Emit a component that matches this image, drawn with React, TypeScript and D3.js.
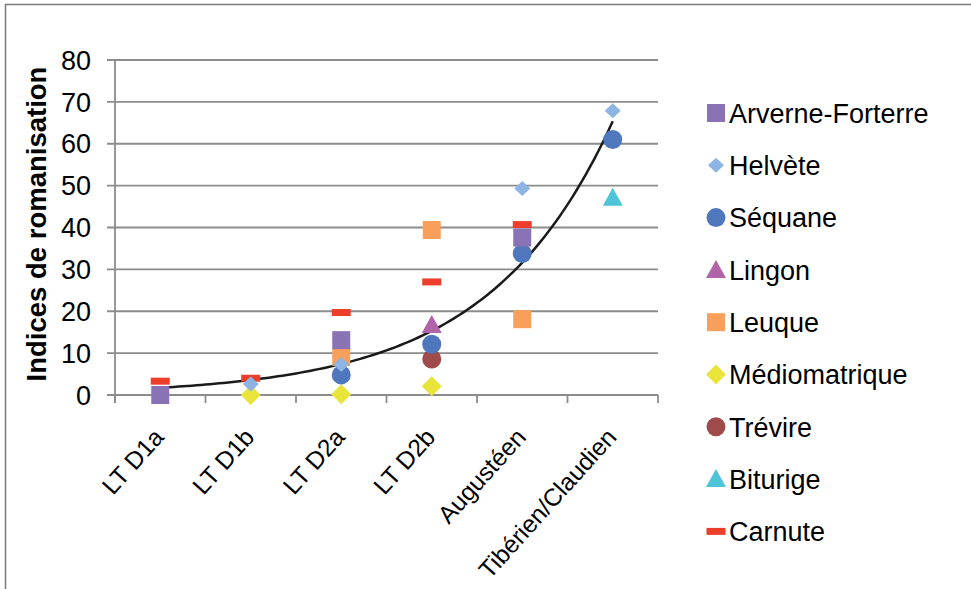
import React from "react";
import * as d3 from "d3";

const categories = ["LT D1a", "LT D1b", "LT D2a", "LT D2b", "Augustéen", "Tibérien/Claudien"];
const yTicks = [0, 10, 20, 30, 40, 50, 60, 70, 80];

const arverne = [0, null, 13.1, null, 37.6, null];
const helvete = [null, 2.6, 7.3, null, 49.3, 67.9];
const sequane = [null, null, 4.8, 12.1, 33.8, 61.0];
const lingon = [null, null, null, 16.7, null, null];
const leuque = [null, null, 9.1, 39.4, 18.1, null];
const mediomatrique = [null, 0, 0.2, 2.1, null, null];
const trevire = [null, null, null, 8.6, null, null];
const biturige = [null, null, null, null, null, 47.1];
const carnute = [3.3, 4.0, 19.7, 27.0, 40.7, null];

// exponential trend y = a * exp(b * x), x = category number 1..6
const trendA = 0.84;
const trendB = 0.7257;
const trendSteps = d3.range(1, 6.0001, 0.05);

type Shape = "square" | "diamond" | "smalldiamond" | "circle" | "triangle" | "dash";
const seriesList: { name: string; values: (number | null)[]; color: string; shape: Shape }[] = [
  { name: "Arverne-Forterre", values: arverne, color: "#8A73B5", shape: "square" },
  { name: "Helvète", values: helvete, color: "#8DB4E2", shape: "smalldiamond" },
  { name: "Séquane", values: sequane, color: "#4F77BE", shape: "circle" },
  { name: "Lingon", values: lingon, color: "#B063A8", shape: "triangle" },
  { name: "Leuque", values: leuque, color: "#F89F5B", shape: "square" },
  { name: "Médiomatrique", values: mediomatrique, color: "#E9E43A", shape: "diamond" },
  { name: "Trévire", values: trevire, color: "#A04B4B", shape: "circle" },
  { name: "Biturige", values: biturige, color: "#4FC4D8", shape: "triangle" },
  { name: "Carnute", values: carnute, color: "#EC3E2A", shape: "dash" },
];

function markerPath(shape: Shape, cx: number, cy: number): string {
  const p = d3.path();
  if (shape === "square") {
    p.rect(cx - 9, cy - 9, 18, 18);
  } else if (shape === "diamond") {
    p.moveTo(cx, cy - 10); p.lineTo(cx + 10, cy); p.lineTo(cx, cy + 10); p.lineTo(cx - 10, cy); p.closePath();
  } else if (shape === "smalldiamond") {
    p.moveTo(cx, cy - 7.5); p.lineTo(cx + 8, cy); p.lineTo(cx, cy + 7.5); p.lineTo(cx - 8, cy); p.closePath();
  } else if (shape === "circle") {
    p.arc(cx, cy, 9.5, 0, Math.PI * 2);
  } else if (shape === "triangle") {
    p.moveTo(cx, cy - 10); p.lineTo(cx + 10, cy + 8); p.lineTo(cx - 10, cy + 8); p.closePath();
  } else {
    p.rect(cx - 9.5, cy - 3.5, 19, 7);
  }
  return p.toString();
}

export default function App() {
  const W = 971, H = 589;
  const left = 115, right = 658, top = 60, bottom = 395;
  const x = d3.scaleBand<string>().domain(categories).range([left, right]);
  const y = d3.scaleLinear().domain([0, 80]).range([bottom, top]);
  const cx = (i: number) => (x(categories[i]) as number) + x.bandwidth() / 2;
  const xTrend = d3.scaleLinear().domain([1, 6]).range([cx(0), cx(5)]);
  const trendLine = d3
    .line<number>()
    .x((t) => xTrend(t))
    .y((t) => y(trendA * Math.exp(trendB * t)))
    .curve(d3.curveLinear)(trendSteps) as string;
  const boundaries = categories.map((c) => x(c) as number).concat([right]);
  const gridColor = "#8C8C8C";
  const font = "'Liberation Sans', Arial, sans-serif";
  const legendY0 = 113, legendStep = 52.3;

  return (
    <svg width={W} height={H} style={{ position: "absolute", left: 0, top: 0, background: "#fff" }} fontFamily={font}>
      <rect x={5.5} y={4.5} width={1100} height={1100} fill="#fff" stroke="#7A7A7A" strokeWidth={1.5} />
      {yTicks.map((t) => (
        <g key={t}>
          <line x1={left - 8} x2={right} y1={y(t)} y2={y(t)} stroke={gridColor} strokeWidth={1.8} />
          <text x={91} y={y(t)} dy="0.36em" textAnchor="end" fontSize={27} fill="#000">{t}</text>
        </g>
      ))}
      <line x1={left} x2={left} y1={top} y2={bottom + 8} stroke={gridColor} strokeWidth={1.8} />
      {boundaries.map((b, i) => (
        <line key={i} x1={b} x2={b} y1={bottom} y2={bottom + 8} stroke={gridColor} strokeWidth={1.8} />
      ))}
      {categories.map((c, i) => (
        <text key={c} transform={`translate(${cx(i) + 5},${bottom + 43}) rotate(-48)`} textAnchor="end" fontSize={24.5} fill="#000">{c}</text>
      ))}
      <text transform={`translate(46,224) rotate(-90)`} textAnchor="middle" fontSize={27.5} fontWeight="bold" fill="#000">Indices de romanisation</text>
      <path d={trendLine} fill="none" stroke="#1a1a1a" strokeWidth={2.5} />
      {seriesList.slice().reverse().map((s) => (
        <g key={s.name}>
          {s.values.map((v, i) =>
            v === null ? null : <path key={i} d={markerPath(s.shape, cx(i), y(v))} fill={s.color} />
          )}
        </g>
      ))}
      {seriesList.map((s, i) => {
        const ly = legendY0 + i * legendStep;
        return (
          <g key={s.name}>
            <path d={markerPath(s.shape, 716, ly)} fill={s.color} />
            <text x={729} y={ly} dy="0.36em" fontSize={27} fill="#000">{s.name}</text>
          </g>
        );
      })}
    </svg>
  );
}
